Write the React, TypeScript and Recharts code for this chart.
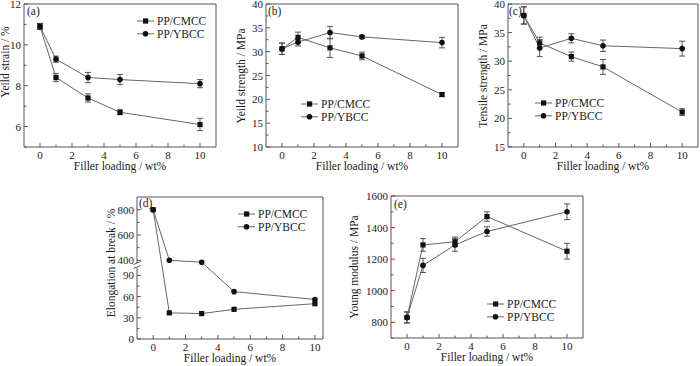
import React from 'react'
import { LineChart, Line, XAxis, YAxis, ErrorBar, Legend } from 'recharts'

const loading = [0, 1, 3, 5, 10]
const seriesNames = ['PP/CMCC', 'PP/YBCC']

// (a) yield strain / %
const strainCmcc = [10.9, 8.4, 7.4, 6.7, 6.1]
const strainCmccErr = [0.15, 0.2, 0.2, 0.12, 0.3]
const strainYbcc = [10.9, 9.3, 8.4, 8.3, 8.1]
const strainYbccErr = [0.15, 0.15, 0.25, 0.25, 0.2]

// (b) yield strength / MPa
const yieldCmcc = [30.6, 33.0, 30.8, 29.1, 21.0]
const yieldCmccErr = [1.2, 1.1, 2.0, 0.8, 0.4]
const yieldYbcc = [30.6, 32.0, 34.0, 33.1, 31.9]
const yieldYbccErr = [1.2, 0.8, 1.3, 0.3, 1.1]

// (c) tensile strength / MPa
const tensileCmcc = [38.0, 33.2, 30.8, 29.0, 21.1]
const tensileCmccErr = [1.5, 1.0, 0.8, 1.3, 0.6]
const tensileYbcc = [38.0, 32.3, 34.0, 32.7, 32.2]
const tensileYbccErr = [1.5, 1.5, 0.8, 1.0, 1.3]

// (d) elongation at break / %  (broken axis)
const elongCmcc = [800, 37, 36, 42, 50]
const elongYbcc = [800, 400, 385, 67, 56]

// (e) Young modulus / MPa
const modulusCmcc = [830, 1290, 1310, 1470, 1250]
const modulusCmccErr = [35, 40, 30, 30, 50]
const modulusYbcc = [830, 1160, 1290, 1375, 1500]
const modulusYbccErr = [35, 45, 40, 30, 50]

const xMajor = [0, 2, 4, 6, 8, 10]
const xMinor = [1, 3, 5, 7, 9]
const strainTicks = [6, 8, 10, 12]
const strainMinor = [5, 7, 9, 11]
const yieldTicks = [10, 15, 20, 25, 30, 35, 40]
const yieldMinor = [12.5, 17.5, 22.5, 27.5, 32.5, 37.5]
const tensileTicks = [15, 20, 25, 30, 35, 40]
const tensileMinor = [17.5, 22.5, 27.5, 32.5, 37.5]
const elongTicks = [0, 30, 60, 90, 400, 600, 800]
const elongMinor = [15, 45, 75, 500, 700]
const modulusTicks = [800, 1000, 1200, 1400, 1600]
const modulusMinor = [700, 900, 1100, 1300, 1500]

// broken axis mapping for panel (d): below the break 1:1, above compressed
const toBroken = (v: number) => (v <= 200 ? v : 111.4 + (v - 400) * 0.179)
const BREAK_AT = 104

const INK = '#1a1a1a'
const LINE = '#666'
const AXIS = '#555'
const FONT = "'Liberation Serif', 'Times New Roman', serif"

type TickDef = { value: number; label?: string; brk?: boolean }

const makeTicks = (major: number[], minor: number[], map = (v: number) => v, extra: TickDef[] = []): TickDef[] =>
  [
    ...major.map(v => ({ value: map(v), label: String(v) })),
    ...minor.map(v => ({ value: map(v) })),
    ...extra,
  ].sort((a, b) => a.value - b.value)

const SquareDot = (p: any) =>
  p.cx == null ? null : (
    <rect key={`s${p.index}`} x={p.cx - 2.6} y={p.cy - 2.6} width={5.2} height={5.2} fill="#111" />
  )
const CircleDot = (p: any) =>
  p.cx == null ? null : <circle key={`c${p.index}`} cx={p.cx} cy={p.cy} r={2.8} fill="#111" />

const XTick = (props: any) => {
  const { x, y, payload } = props
  const major = xMajor.includes(payload.value)
  return (
    <g>
      <line x1={x} x2={x} y1={y} y2={y - (major ? 4 : 2.5)} stroke={AXIS} />
      {major && (
        <text x={x} y={y + 12} textAnchor="middle" fill={INK} fontSize={11}>
          {payload.value}
        </text>
      )}
    </g>
  )
}

const makeYTick = (defs: TickDef[]) => (props: any) => {
  const { x, y, payload } = props
  const d = defs.find(t => Math.abs(t.value - Number(payload.value)) < 1e-6)
  const major = !!(d && d.label)
  const brk = !!(d && d.brk)
  return (
    <g>
      {brk ? (
        <g>
          <rect x={x - 3} y={y - 2.5} width={6} height={5} fill="#fff" />
          <line x1={x - 3.5} x2={x + 3.5} y1={y - 1} y2={y - 4} stroke={AXIS} />
          <line x1={x - 3.5} x2={x + 3.5} y1={y + 3} y2={y} stroke={AXIS} />
        </g>
      ) : (
        <line x1={x} x2={x + (major ? 4 : 2.5)} y1={y} y2={y} stroke={AXIS} />
      )}
      <text x={x - 3} y={y} dy={4} textAnchor="end" fill={INK} fontSize={11}>
        {major ? d!.label : ''}
      </text>
    </g>
  )
}

const LegendBox = () => (
  <svg width={80} height={30}>
    {seriesNames.map((name, i) => {
      const cy = 6 + i * 12.8
      return (
        <g key={name}>
          <line x1={0} x2={17} y1={cy} y2={cy} stroke={LINE} />
          {i === 0 ? (
            <rect x={6} y={cy - 2.6} width={5.2} height={5.2} fill="#111" />
          ) : (
            <circle cx={8.5} cy={cy} r={2.8} fill="#111" />
          )}
          <text x={20} y={cy} dy={4} fill={INK} fontSize={11.5}>
            {name}
          </text>
        </g>
      )
    })}
  </svg>
)

type PanelProps = {
  left: number
  top: number
  width: number
  height: number
  plot: { top: number; right: number; bottom: number; left: number } // plot box in panel pixels
  cmcc: number[]
  ybcc: number[]
  cmccErr?: number[]
  ybccErr?: number[]
  xDomain: [number, number]
  yDomain: [number, number]
  yTicks: TickDef[]
  yTitle: string
  yTitleX: number
  yTitleY?: number
  tag: string
  tagDx: number
  tagDy: number
  legendX: number
  legendY: number
}

const textStyle = { position: 'absolute' as const, whiteSpace: 'nowrap' as const, fontSize: 11.5, lineHeight: 1, color: INK }

function Panel(p: PanelProps) {
  const rows = loading.map((x, i) => ({
    x,
    cmcc: p.cmcc[i],
    ybcc: p.ybcc[i],
    cmccErr: p.cmccErr ? p.cmccErr[i] : 0,
    ybccErr: p.ybccErr ? p.ybccErr[i] : 0,
  }))
  const { left: plotL, right: plotR, top: plotT, bottom: plotB } = p.plot
  const titleY = p.yTitleY ?? (plotT + plotB) / 2
  const YTick = makeYTick(p.yTicks)
  const showErr = !!p.cmccErr
  // top axis and right axis are 1px wide, used only to close the frame
  const margin = { top: plotT - 1, right: p.width - plotR - 1, left: 0, bottom: p.height - plotB - 27 }

  return (
    <div style={{ position: 'absolute', left: p.left, top: p.top, width: p.width, height: p.height }}>
      <LineChart width={p.width} height={p.height} data={rows} margin={margin}>
        <XAxis
          dataKey="x"
          type="number"
          domain={p.xDomain}
          ticks={[...xMajor, ...xMinor].sort((a, b) => a - b)}
          interval={0}
          tickSize={0}
          tickMargin={0}
          height={27}
          stroke={AXIS}
          tick={XTick}
          tickLine={false}
        />
        <XAxis xAxisId="top" orientation="top" type="number" domain={p.xDomain} height={1} tick={false} tickLine={false} stroke={AXIS} />
        <YAxis
          type="number"
          domain={p.yDomain}
          allowDataOverflow
          ticks={p.yTicks.map(t => t.value)}
          interval={0}
          tickSize={0}
          tickMargin={0}
          width={plotL}
          stroke={AXIS}
          tick={YTick}
          tickLine={false}
        />
        <YAxis yAxisId="right" orientation="right" type="number" domain={p.yDomain} width={1} tick={false} tickLine={false} stroke={AXIS} />
        <Legend
          layout="vertical"
          align="center"
          verticalAlign="middle"
          wrapperStyle={{ left: p.legendX, top: p.legendY - 6, width: 80, height: 30 }}
          content={() => <LegendBox />}
        />
        <Line type="linear" dataKey="ybcc" name={seriesNames[1]} stroke={LINE} strokeWidth={1} dot={CircleDot} activeDot={false} isAnimationActive={false}>
          {showErr && <ErrorBar dataKey="ybccErr" direction="y" width={3} stroke="#444" strokeWidth={0.9} isAnimationActive={false} />}
        </Line>
        <Line type="linear" dataKey="cmcc" name={seriesNames[0]} stroke={LINE} strokeWidth={1} dot={SquareDot} activeDot={false} isAnimationActive={false}>
          {showErr && <ErrorBar dataKey="cmccErr" direction="y" width={3} stroke="#444" strokeWidth={0.9} isAnimationActive={false} />}
        </Line>
      </LineChart>
      <div style={{ ...textStyle, left: (plotL + plotR) / 2, top: plotB + 20, transform: 'translate(-50%, -50%)' }}>
        Filler loading / wt%
      </div>
      <div style={{ ...textStyle, left: p.yTitleX, top: titleY, transform: 'translate(-50%, -50%) rotate(-90deg)' }}>
        {p.yTitle}
      </div>
      <div style={{ ...textStyle, left: plotL + p.tagDx, top: plotT + p.tagDy - 4, transform: 'translateY(-50%)' }}>
        {p.tag}
      </div>
    </div>
  )
}

export default function App() {
  const elongDefs = makeTicks(elongTicks, elongMinor, toBroken, [{ value: BREAK_AT, brk: true }])
  return (
    <div style={{ position: 'absolute', left: 0, top: 0, width: 700, height: 366, background: '#fff', fontFamily: FONT }}>
      <Panel
        left={0} top={0} width={230} height={185}
        plot={{ left: 24, right: 216, top: 4, bottom: 147 }}
        cmcc={strainCmcc} cmccErr={strainCmccErr} ybcc={strainYbcc} ybccErr={strainYbccErr}
        xDomain={[-1, 11]} yDomain={[5, 12]}
        yTicks={makeTicks(strainTicks, strainMinor)}
        yTitle="Yeild strain / %" yTitleX={6} yTitleY={62}
        tag="(a)" tagDx={3} tagDy={12}
        legendX={137} legendY={20.7}
      />
      <Panel
        left={230} top={0} width={240} height={185}
        plot={{ left: 36, right: 228, top: 4, bottom: 147 }}
        cmcc={yieldCmcc} cmccErr={yieldCmccErr} ybcc={yieldYbcc} ybccErr={yieldYbccErr}
        xDomain={[-1, 11]} yDomain={[10, 40]}
        yTicks={makeTicks(yieldTicks, yieldMinor)}
        yTitle="Yeild strength / MPa" yTitleX={12}
        tag="(b)" tagDx={2} tagDy={12}
        legendX={71} legendY={104}
      />
      <Panel
        left={470} top={0} width={230} height={185}
        plot={{ left: 38, right: 228, top: 4, bottom: 147 }}
        cmcc={tensileCmcc} cmccErr={tensileCmccErr} ybcc={tensileYbcc} ybccErr={tensileYbccErr}
        xDomain={[-1, 11]} yDomain={[15, 40]}
        yTicks={makeTicks(tensileTicks, tensileMinor)}
        yTitle="Tensile strength / MPa" yTitleX={14}
        tag="(c)" tagDx={1} tagDy={12}
        legendX={65} legendY={103.3}
      />
      <Panel
        left={100} top={185} width={240} height={181}
        plot={{ left: 37, right: 223, top: 12, bottom: 154 }}
        cmcc={elongCmcc.map(v => toBroken(v))} ybcc={elongYbcc.map(v => toBroken(v))}
        xDomain={[-1, 10.5]} yDomain={[0, 201]}
        yTicks={elongDefs}
        yTitle="Elongation at break / %" yTitleX={12} yTitleY={78}
        tag="(d)" tagDx={2} tagDy={11}
        legendX={138} legendY={29}
      />
      <Panel
        left={350} top={185} width={250} height={181}
        plot={{ left: 41, right: 233, top: 11, bottom: 153 }}
        cmcc={modulusCmcc} cmccErr={modulusCmccErr} ybcc={modulusYbcc} ybccErr={modulusYbccErr}
        xDomain={[-1, 11]} yDomain={[700, 1600]}
        yTicks={makeTicks(modulusTicks, modulusMinor)}
        yTitle="Young modulus / MPa" yTitleX={5}
        tag="(e)" tagDx={3} tagDy={13}
        legendX={137} legendY={118.7}
      />
    </div>
  )
}
